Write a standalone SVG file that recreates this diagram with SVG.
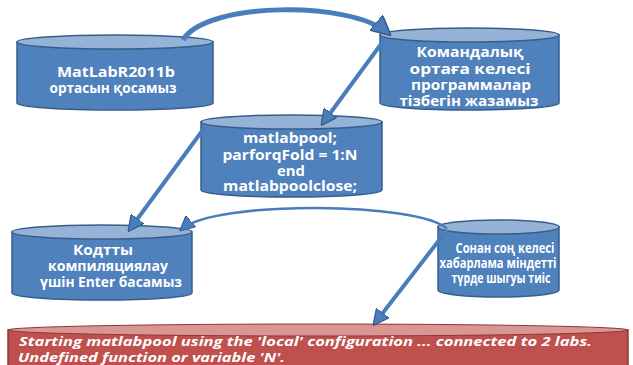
<svg xmlns="http://www.w3.org/2000/svg" width="633" height="365" viewBox="0 0 633 365">
<defs>
<style>
.body{fill:#4F81BD;stroke:#385D8A;stroke-width:1.5}
.top{fill:#95B3D7;stroke:#385D8A;stroke-width:1.5}
.rbody{fill:#C0504D;stroke:#8C3836;stroke-width:1.5}
.rtop{fill:#DA9694;stroke:#8C3836;stroke-width:1}
.t{font-family:"Open Sans","DejaVu Sans",sans-serif;font-weight:bold;font-size:14px;fill:#FFFFFF;text-anchor:middle}
.s{font-size:13.5px}
.rt{font-family:"Open Sans","DejaVu Sans",sans-serif;font-weight:bold;font-style:italic;font-size:13px;fill:#FFFFFF}
.c{fill:none;stroke:#4A7EBB;stroke-linecap:butt}
</style>
<marker id="ah" viewBox="0 0 10 10" refX="8" refY="5" markerWidth="4" markerHeight="4" orient="auto" markerUnits="strokeWidth">
<path d="M0,0 L10,5 L0,10 z" fill="#4A7EBB" stroke="#385D8A" stroke-width="0.8"/>
</marker>
<marker id="ah2" viewBox="0 0 10 10" refX="8" refY="5" markerWidth="6" markerHeight="6" orient="auto" markerUnits="strokeWidth">
<path d="M0,0 L10,5 L0,10 z" fill="#4A7EBB" stroke="#385D8A" stroke-width="0.8"/>
</marker>
</defs>
<rect width="633" height="365" fill="#FFFFFF"/>

<g id="n1">
<path class="body" d="M17,42 L17,103 A98,7 0 0 0 213,103 L213,42 Z"/>
<ellipse class="top" cx="115" cy="42" rx="98" ry="7"/>
<text class="t" x="116" y="77" textLength="118" lengthAdjust="spacingAndGlyphs">MatLabR2011b</text>
<text class="t" x="113" y="93" textLength="127" lengthAdjust="spacingAndGlyphs">ортасын қосамыз</text>
</g>

<g id="n2">
<path class="body" d="M380,35 L380,103 A89.5,7 0 0 0 559,103 L559,35 Z"/>
<ellipse class="top" cx="469.5" cy="35" rx="89.5" ry="7"/>
<text class="t" x="470" y="57" textLength="107" lengthAdjust="spacingAndGlyphs">Командалық</text>
<text class="t" x="470" y="74" textLength="121" lengthAdjust="spacingAndGlyphs">ортаға келесі</text>
<text class="t" x="471" y="90" textLength="120" lengthAdjust="spacingAndGlyphs">программалар</text>
<text class="t" x="469" y="106" textLength="139" lengthAdjust="spacingAndGlyphs">тізбегін жазамыз</text>
</g>

<g id="n3">
<path class="body" d="M201,122 L201,190 A90.5,7 0 0 0 382,190 L382,122 Z"/>
<ellipse class="top" cx="291.5" cy="122" rx="90.5" ry="7"/>
<text class="t" x="290" y="143" textLength="94" lengthAdjust="spacingAndGlyphs">matlabpool;</text>
<text class="t" x="290" y="160" textLength="135" lengthAdjust="spacingAndGlyphs">parforqFold = 1:N</text>
<text class="t" x="291" y="176" textLength="28" lengthAdjust="spacingAndGlyphs">end</text>
<text class="t" x="290" y="191" textLength="134" lengthAdjust="spacingAndGlyphs">matlabpoolclose;</text>
</g>

<g id="n4">
<path class="body" d="M12,232 L12,293 A90,7 0 0 0 192,293 L192,232 Z"/>
<ellipse class="top" cx="102" cy="232" rx="90" ry="7"/>
<text class="t" x="103" y="255" textLength="60" lengthAdjust="spacingAndGlyphs">Кодтты</text>
<text class="t" x="108" y="271" textLength="120" lengthAdjust="spacingAndGlyphs">компиляциялау</text>
<text class="t" x="111" y="287" textLength="142" lengthAdjust="spacingAndGlyphs">үшін Enter басамыз</text>
</g>

<g id="n5">
<path class="body" d="M438,227 L438,290 A60.5,7 0 0 0 559,290 L559,227 Z"/>
<ellipse class="top" cx="498.5" cy="227" rx="60.5" ry="7"/>
<text class="t s" x="505" y="253" textLength="99" lengthAdjust="spacingAndGlyphs">Сонан соң келесі</text>
<text class="t s" x="498" y="268" textLength="117" lengthAdjust="spacingAndGlyphs">хабарлама міндетті</text>
<text class="t s" x="501" y="283" textLength="99" lengthAdjust="spacingAndGlyphs">түрде шыгуы тиіс</text>
</g>

<g id="n6">
<path class="rbody" d="M8,330 L8,370 L628,370 L628,330 Z"/>
<ellipse class="rtop" cx="318" cy="330" rx="310" ry="6"/>
<text class="rt" x="19" y="346" textLength="573" lengthAdjust="spacingAndGlyphs">Starting matlabpool using the 'local' configuration ... connected to 2 labs.</text>
<text class="rt" x="18" y="362" textLength="267" lengthAdjust="spacingAndGlyphs">Undefined function or variable 'N'.</text>
</g>

<g id="connectors">
<path class="c" stroke-width="5" d="M183,40 C205,2 350,0 388,33" marker-end="url(#ah)"/>
<path class="c" stroke-width="4" d="M384,40 L323,123" marker-end="url(#ah)"/>
<path class="c" stroke-width="4" d="M205,127 L130,229" marker-end="url(#ah)"/>
<path class="c" stroke-width="2.5" d="M447,229 C420,202 215,200 182,229" marker-end="url(#ah2)"/>
<path class="c" stroke-width="4" d="M447,230 L375,323" marker-end="url(#ah)"/>
</g>
</svg>
